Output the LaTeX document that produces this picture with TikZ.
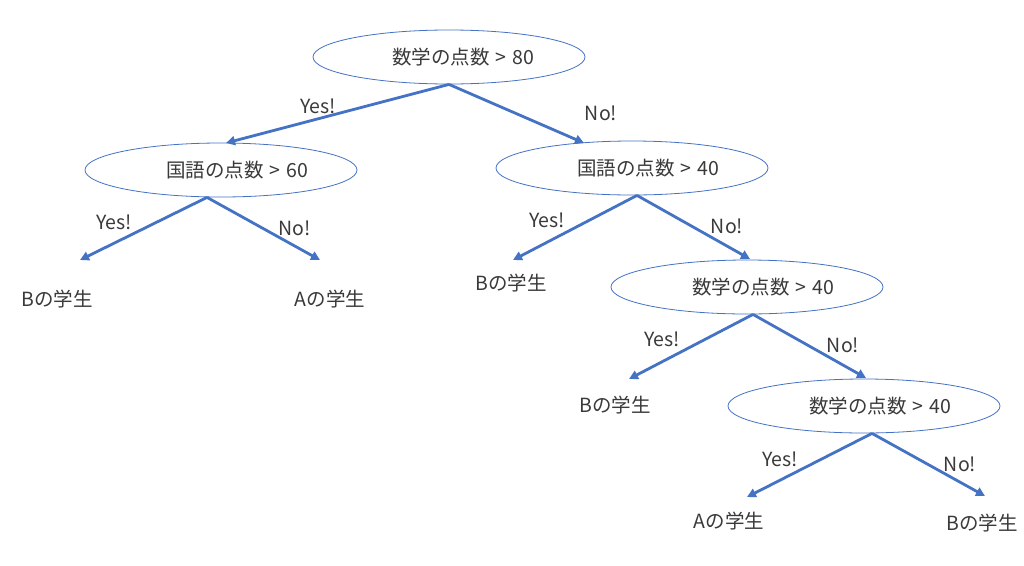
\documentclass[tikz,border=0pt]{standalone}
\usepackage{fontspec}
\setmainfont{Noto Sans CJK JP}
\usetikzlibrary{shapes.geometric,arrows.meta,calc}
\definecolor{lineblue}{HTML}{4472C4}
\definecolor{txt}{HTML}{3A3A3A}
\newcommand{\gtsym}{\hspace{0.3em}>\hspace{0.3em}}
\begin{document}
\begin{tikzpicture}[x=1pt,y=-1pt,
  cond/.style={ellipse,draw=lineblue,line width=0.8pt,minimum width=272pt,minimum height=54pt,inner sep=0pt,text=txt,font=\fontsize{19.5}{21}\selectfont},
  leaf/.style={text=txt,inner sep=0pt,font=\fontsize{19.5}{21}\selectfont},
  lab/.style={text=txt,inner sep=0pt,font=\fontsize{19.5}{21}\selectfont},
  arr/.style={draw=lineblue,line width=2.8pt,-{Triangle[length=9pt,width=9pt]}}]
\useasboundingbox (0,0) rectangle (1024,565);
\fill[white] (0,0) rectangle (1024,565);
% conditions
\node[cond] (e1) at (449,57) {\hspace*{28pt}数学の点数\gtsym 80};
\node[cond] (e2) at (221,170) {\hspace*{32pt}国語の点数\gtsym 60};
\node[cond] (e3) at (632,168) {\hspace*{32pt}国語の点数\gtsym 40};
\node[cond] (e4) at (747,287) {\hspace*{32pt}数学の点数\gtsym 40};
\node[cond] (e5) at (864,406) {\hspace*{32pt}数学の点数\gtsym 40};
% leaves
\node[leaf] (l1) at (57,299) {Bの学生};
\node[leaf] (l2) at (330,299) {Aの学生};
\node[leaf] (l3) at (511,283) {Bの学生};
\node[leaf] (l4) at (615,405) {Bの学生};
\node[leaf] (l5) at (729,521) {Aの学生};
\node[leaf] (l6) at (982,523) {Bの学生};
% arrow ends
\coordinate (t2) at (226,143);
\coordinate (t3) at (584,143);
\coordinate (t21) at (80,260);
\coordinate (t22) at (320,260);
\coordinate (t31) at (513,260);
\coordinate (t32) at (750,259);
\coordinate (t41) at (629,379);
\coordinate (t42) at (866,378);
\coordinate (t51) at (747,497);
\coordinate (t52) at (985,496);
% connectors
\draw[arr] (e1.south) -- (t2);
\draw[arr] (e1.south) -- (t3);
\draw[arr] ($(e2.south)+(-14,0)$) -- (t21);
\draw[arr] ($(e2.south)+(-14,0)$) -- (t22);
\draw[arr] ($(e3.south)+(5,0)$) -- (t31);
\draw[arr] ($(e3.south)+(5,0)$) -- (t32);
\draw[arr] ($(e4.south)+(6,0)$) -- (t41);
\draw[arr] ($(e4.south)+(6,0)$) -- (t42);
\draw[arr] ($(e5.south)+(8,0)$) -- (t51);
\draw[arr] ($(e5.south)+(8,0)$) -- (t52);
% labels
\node[lab] (y1) at (318,106) {Yes!};
\node[lab] (n1) at (601,113) {No!};
\node[lab] (y2) at (114,222) {Yes!};
\node[lab] (n2) at (295,228) {No!};
\node[lab] (y3) at (547,220) {Yes!};
\node[lab] (n3) at (727,226) {No!};
\node[lab] (y4) at (662,339) {Yes!};
\node[lab] (n4) at (843,345) {No!};
\node[lab] (y5) at (780,459) {Yes!};
\node[lab] (n5) at (960,464) {No!};
\end{tikzpicture}
\end{document}
